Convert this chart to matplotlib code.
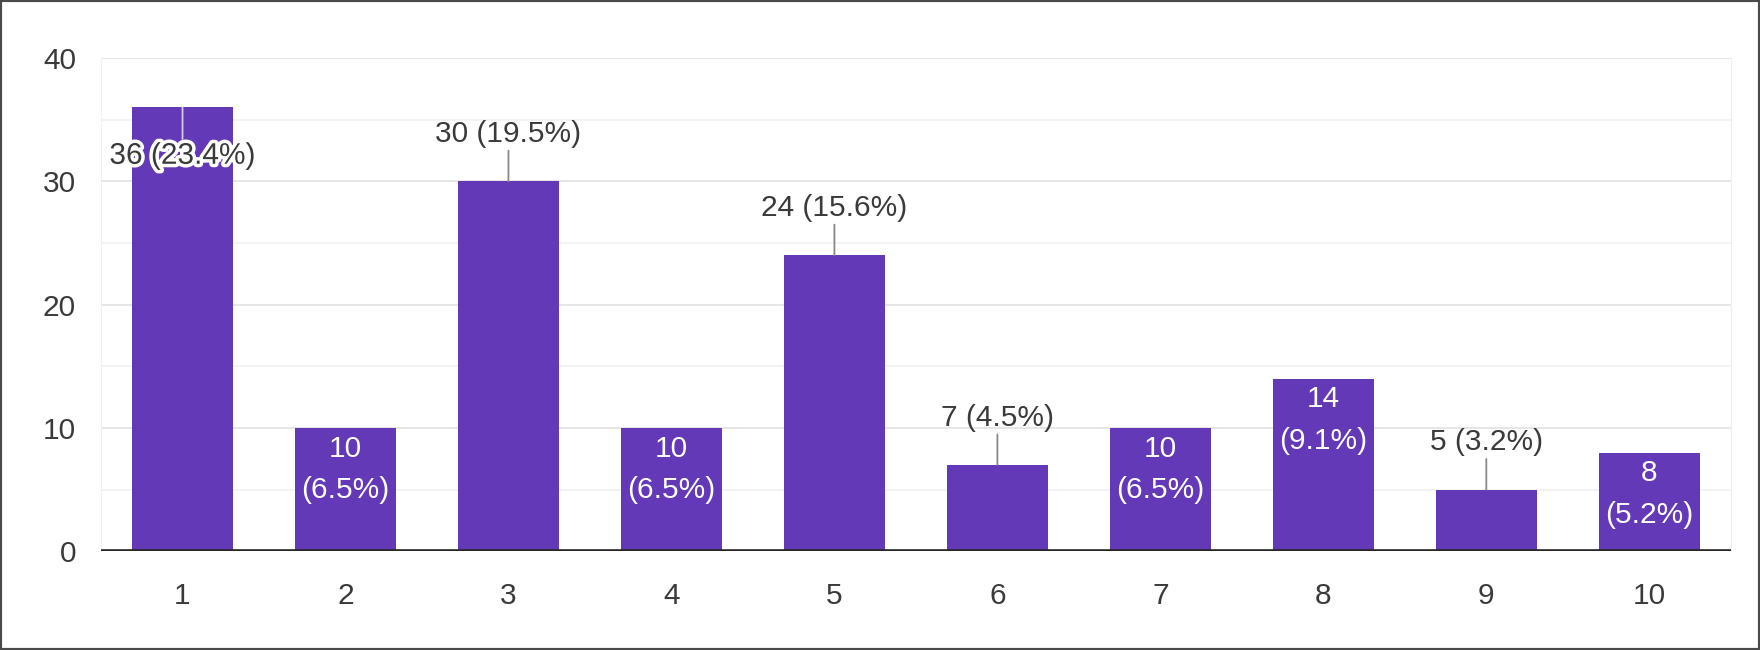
# Google Forms style bar chart: responses per rating 1-10

import matplotlib.pyplot as plt
from matplotlib.patches import Rectangle
from matplotlib.ticker import MultipleLocator
import matplotlib.patheffects as pe

plt.rcParams['font.family'] = ['Liberation Sans', 'DejaVu Sans']

ratings = [1, 2, 3, 4, 5, 6, 7, 8, 9, 10]
counts = [36, 10, 30, 10, 24, 7, 10, 14, 5, 8]
tick_labels = ['1', '2', '3', '4', '5', '6', '7', '8', '9', '10']

# where google put each value label
label_pos = ['clip', 'in', 'out', 'in', 'out', 'out', 'in', 'in', 'out', 'in']

bar_color = '#6439b7'
text_color = '#3a3a3a'
fs = 21.5

total = sum(counts)

fig = plt.figure(figsize=(17.6, 6.5), dpi=100)
ax = fig.add_axes([0.0574, 0.152, 0.926, 0.759])

ax.bar(ratings, counts, width=0.62, color=bar_color, zorder=2)

ax.set_xlim(0.5, 10.5)
ax.set_ylim(0, 40)
ax.yaxis.set_major_locator(MultipleLocator(10))
ax.yaxis.set_minor_locator(MultipleLocator(5))
ax.set_xticks(ratings)
ax.set_xticklabels(tick_labels)

ax.grid(True, axis='y', which='major', color='#e4e4e4', lw=1.3, zorder=0)
ax.grid(True, axis='y', which='minor', color='#f0f0f0', lw=1.1, zorder=0)
ax.tick_params(axis='both', which='both', length=0, labelsize=fs, labelcolor=text_color)
ax.tick_params(axis='x', pad=22)
ax.tick_params(axis='y', pad=18)

for s in ['top', 'bottom']:
    ax.spines[s].set_visible(False)
for s in ['left', 'right']:
    ax.spines[s].set_color('#f0f0f0')
ax.axhline(0, color='#262626', lw=2.6, zorder=3)

for x, v, pos in zip(ratings, counts, label_pos):
    pct = 100 * v / total
    if pos == 'in':
        ax.annotate(f'{v}\n({pct:.1f}%)', xy=(x, v), xytext=(0, -5),
                    textcoords='offset points', ha='center', va='top',
                    fontsize=fs, color='white', linespacing=1.62, zorder=4)
    elif pos == 'out':
        ax.annotate(f'{v} ({pct:.1f}%)', xy=(x, v), xytext=(0, 24),
                    textcoords='offset points', ha='center', va='bottom',
                    fontsize=fs, color=text_color, zorder=4,
                    arrowprops=dict(arrowstyle='-', color='#888888', lw=1.3,
                                    shrinkA=0, shrinkB=0))
    else:
        t = ax.annotate(f'{v} ({pct:.1f}%)', xy=(x, v), xytext=(0, -35),
                        textcoords='offset points', ha='center', va='center',
                        fontsize=fs, color=text_color, zorder=4,
                        arrowprops=dict(arrowstyle='-', color='#d4cdee', lw=1.3,
                                        shrinkA=0, shrinkB=0))
        t.set_path_effects([pe.withStroke(linewidth=5, foreground='white')])

# outer frame of the screenshot
fig.patches.append(Rectangle((0, 0), 1, 1, transform=fig.transFigure, fill=False,
                             edgecolor='#4a4a4a', lw=3))

fig.savefig('out.png', dpi=100, facecolor='white')
